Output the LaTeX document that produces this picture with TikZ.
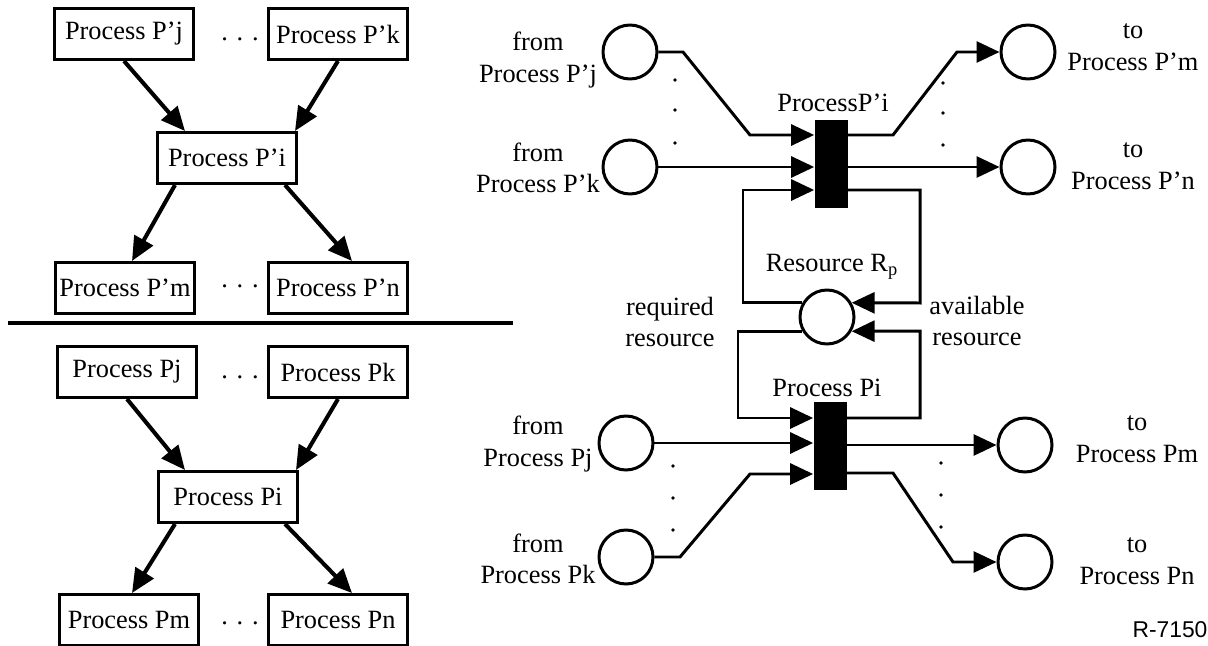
\documentclass[tikz,border=0pt]{standalone}
\usepackage{fontspec}
\setmainfont{Liberation Serif}
\setsansfont{Liberation Sans}
\usetikzlibrary{arrows.meta,calc}

\begin{document}
\begin{tikzpicture}[x=0.02cm,y=-0.02cm,font=\fontsize{15}{18}\selectfont]
  \tikzstyle{box}=[draw,line width=1.7pt,minimum width=2.8cm,minimum height=1.02cm,inner sep=0pt]
  \tikzstyle{place}=[circle,draw,line width=1.7pt,minimum size=1.08cm,inner sep=0pt]
  \tikzstyle{trans}=[fill=black,minimum width=0.66cm,minimum height=1.78cm,inner sep=0pt]
  \tikzstyle{flow}=[line width=2.3pt,-{Triangle[length=0.48cm,width=0.42cm]}]
  \tikzstyle{arc}=[line width=1.7pt,-{Triangle[length=0.46cm,width=0.42cm]}]
  \tikzstyle{lbl}=[align=center,inner sep=0pt]

  \useasboundingbox (0,0) rectangle (1208,646);

  % process graphs, left
  \foreach \name/\p/\x/\y in {j/Process P'j/124/34, k/Process P'k/338/34, i/Process P'i/227/158, m/Process P'm/125/288, n/Process P'n/338/288}
    \node[box] (U-\name) at (\x,\y) {\p};
  \foreach \name/\p/\x/\y in {j/Process Pj/127/372, k/Process Pk/338/372, i/Process Pi/228/497, m/Process Pm/129/620, n/Process Pn/338/620}
    \node[box] (L-\name) at (\x,\y) {\p};
  \foreach \name/\y in {a/39, b/286, c/377, d/623}
    \node (dots-\name) at (240,\y) {. . .};

  \foreach \g/\a/\b/\c/\d/\e/\f in {U/-42/68/-52/7/58/14, L/-43/68/-53/3/57/14} {
    \draw[flow] (\g-j.south) -- ($(\g-i.north)+(\a,0)$);
    \draw[flow] (\g-k.south) -- ($(\g-i.north)+(\b,0)$);
    \draw[flow] ($(\g-i.south)+(\c,0)$) -- ($(\g-m.north)+(\d,0)$);
    \draw[flow] ($(\g-i.south)+(\e,0)$) -- ($(\g-n.north)+(\f,0)$);
  }

  \draw[line width=2.8pt] (8,323) -- (513,323);

  % petri net, right
  \foreach \name/\x/\y in {uj/630/52, uk/630/167, um/1028/52, un/1028/167, lj/626/443, lk/626/557, lm/1025/445, ln/1025/562}
    \node[place] (p-\name) at (\x,\y) {};
  \node[place] (res) at (827,317) {};
  \node[trans] (tu) at (831,164) {};
  \node[trans] (tl) at (830,446) {};

  \foreach \name/\t/\x/\y in {uj/from\\Process P'j/538/60, uk/from\\Process P'k/538/168, lj/from\\Process Pj/538/444, lk/from\\Process Pk/538/559, um/to\\Process P'm/1133/47, un/to\\Process P'n/1133/166, lm/to\\Process Pm/1137/439, ln/to\\Process Pn/1137/561}
    \node[lbl] (t-\name) at (\x,\y) {\t};
  \node[lbl] (t-tu) at (833,103) {ProcessP'i};
  \node[lbl] (t-tl) at (827,388) {Process Pi};
  \node[lbl] (t-res) at (832,267) {Resource R\textsubscript{p}};
  \node[lbl] (t-req) at (670,322) {required\\resource};
  \node[lbl] (t-avl) at (977,321) {available\\resource};
  \node[font=\sffamily\fontsize{13}{15}\selectfont] (tag) at (1170,630) {R-7150};

  \coordinate (a1) at (683,52);
  \coordinate (a2) at (750,135);
  \coordinate (a3) at (893,135);
  \coordinate (a4) at (957,52);
  \coordinate (b1) at (743,190);
  \coordinate (c1) at (920,303);
  \coordinate (c2) at (920,331);
  \coordinate (d1) at (738,418);
  \coordinate (e1) at (680,557);
  \coordinate (e2) at (750,474);
  \coordinate (e3) at (893,473);
  \coordinate (e4) at (953,562);

  \draw[arc] (p-uj) -- (a1) -- (a2) -- (a2 -| tu.west);
  \draw[arc] (p-uk) -- (p-uk -| tu.west);
  \draw[arc] (res.150) -| (b1) -- (b1 -| tu.west);
  \draw[arc] (a3 -| tu.east) -- (a3) -- (a4) -- (p-um);
  \draw[arc] (tu.east |- p-un) -- (p-un);
  \draw[arc] (tu.east |- b1) -| (c1) -- (res.30);

  \draw[arc] (res.210) -| (d1) -- (d1 -| tl.west);
  \draw[arc] (p-lj) -- (p-lj -| tl.west);
  \draw[arc] (p-lk) -- (e1) -- (e2) -- (e2 -| tl.west);
  \draw[arc] (tl.east |- d1) -| (c2) -- (res.-30);
  \draw[arc] (tl.east |- p-lm) -- (p-lm);
  \draw[arc] (e3 -| tl.east) -- (e3) -- (e4) -- (p-ln);

  \foreach \x/\y in {675/80, 675/110, 675/143, 943/83, 943/113, 943/145, 673/466, 673/498, 673/530, 941/463, 941/495, 941/527}
    \fill (\x,\y) circle (1.1pt);
\end{tikzpicture}
\end{document}
